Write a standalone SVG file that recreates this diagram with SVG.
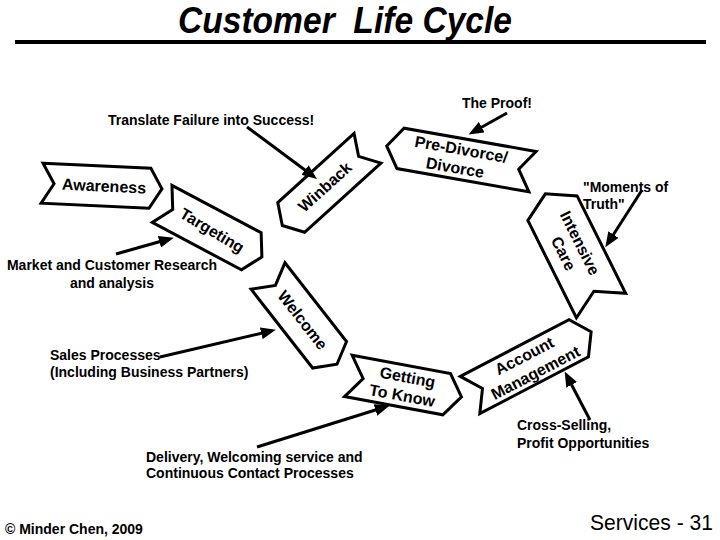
<svg xmlns="http://www.w3.org/2000/svg" width="720" height="540" viewBox="0 0 720 540">
<style>
.shape{fill:#fff;stroke:#000;stroke-width:3;stroke-linejoin:miter}
.st{font-family:"Liberation Sans",Arial,sans-serif;font-weight:bold;font-size:16px;fill:#000;text-anchor:middle}
.lbl{font-family:"Liberation Sans",Arial,sans-serif;font-weight:bold;font-size:14px;fill:#000}
.conn line{stroke:#000;stroke-width:3}
</style>
<defs>
<marker id="ah" markerUnits="userSpaceOnUse" markerWidth="16" markerHeight="12" refX="10" refY="6" orient="auto">
<path d="M0,0 L15,6 L0,12 z" fill="#000"/>
</marker>
</defs>
<rect width="720" height="540" fill="#fff"/>
<text x="178" y="33" xml:space="preserve" font-family="'Liberation Sans',Arial,sans-serif" font-weight="bold" font-style="italic" font-size="36" textLength="334" lengthAdjust="spacingAndGlyphs">Customer  Life Cycle</text>
<line x1="15" y1="42" x2="706" y2="42" stroke="#000" stroke-width="4"/>

<g id="awareness">
<polygon class="shape" transform="translate(102,186) rotate(2.7)" points="-60,-20 48,-20 60,0 48,20 -60,20 -48,0"/>
<text class="st" transform="translate(102,186) rotate(2.7)" x="2" y="5.5">Awareness</text>
</g>
<g id="targeting">
<polygon class="shape" transform="translate(212,230.4) rotate(28)" points="-56.5,-21 44.5,-21 56.5,0 44.5,21 -56.5,21 -44.5,0"/>
<text class="st" transform="translate(212,230.4) rotate(31)" x="0" y="5.5">Targeting</text>
</g>
<g id="welcome">
<polygon class="shape" transform="translate(302.5,320.1) rotate(52)" points="-56,-21.5 44,-21.5 56,0 44,21.5 -56,21.5 -44,0"/>
<text class="st" transform="translate(302.5,320.1) rotate(52)" x="0" y="5.5" font-size="15">Welcome</text>
</g>
<g id="getting-to-know">
<polygon class="shape" transform="translate(404.9,386.4) rotate(10.5)" points="-57.5,-21 42.5,-21 57.5,0 42.5,21 -57.5,21 -42.5,0"/>
<text class="st" transform="translate(404.9,386.4) rotate(10.5)" x="1" y="-4">Getting</text>
<text class="st" transform="translate(404.9,386.4) rotate(10.5)" x="-1" y="15">To Know</text>
</g>
<g id="account-management">
<polygon class="shape" transform="translate(530.6,363.4) rotate(-27.6)" points="-68.3,-21 54.3,-21 68.3,0 54.3,21 -68.3,21 -54.3,0"/>
<text class="st" transform="translate(530.6,363.4) rotate(-27.6)" x="-2" y="-4">Account</text>
<text class="st" transform="translate(530.6,363.4) rotate(-27.6)" x="0" y="16">Management</text>
</g>
<g id="intensive-care">
<polygon class="shape" transform="translate(573.2,249.7) rotate(243.5)" points="-62.4,-27.5 46.4,-27.5 62.4,0 46.4,27.5 -62.4,27.5 -46.4,0"/>
<text class="st" transform="translate(573.2,249.7) rotate(63.5)" x="-3" y="-3.5">Intensive</text>
<text class="st" transform="translate(573.2,249.7) rotate(63.5)" x="-1" y="16">Care</text>
</g>
<g id="pre-divorce">
<polygon class="shape" transform="translate(459.6,158.8) rotate(190)" points="-74,-20.5 60,-20.5 74,0 60,20.5 -74,20.5 -60,0"/>
<text class="st" transform="translate(459.6,158.8) rotate(10)" x="0" y="-4">Pre-Divorce/</text>
<text class="st" transform="translate(459.6,158.8) rotate(10)" x="-3" y="15">Divorce</text>
</g>
<g id="winback">
<polygon class="shape" transform="translate(324.9,186.9) rotate(137.8)" points="-57.5,-20 45.5,-20 57.5,0 45.5,20 -57.5,20 -45.5,0"/>
<text class="st" transform="translate(324.9,186.9) rotate(-42.2)" x="0" y="5.5">Winback</text>
</g>

<g id="connectors" class="conn">
<line x1="247" y1="127" x2="313" y2="176" marker-end="url(#ah)"/>
<line x1="507" y1="113" x2="473" y2="132" marker-end="url(#ah)"/>
<line x1="642" y1="190" x2="608" y2="243" marker-end="url(#ah)"/>
<line x1="116" y1="254" x2="169" y2="239" marker-end="url(#ah)"/>
<line x1="160" y1="357" x2="271" y2="331" marker-end="url(#ah)"/>
<line x1="257" y1="447" x2="385" y2="407" marker-end="url(#ah)"/>
<line x1="590" y1="420" x2="567" y2="376" marker-end="url(#ah)"/>
</g>

<g id="labels">
<text class="lbl" x="108" y="125">Translate Failure into Success!</text>
<text class="lbl" x="462" y="108">The Proof!</text>
<text class="lbl" x="583" y="192">"Moments of</text>
<text class="lbl" x="583" y="209">Truth"</text>
<text class="lbl" x="112" y="270" text-anchor="middle">Market and Customer Research</text>
<text class="lbl" x="112" y="288" text-anchor="middle">and analysis</text>
<text class="lbl" x="50" y="360">Sales Processes</text>
<text class="lbl" x="50" y="377">(Including Business Partners)</text>
<text class="lbl" x="146" y="462">Delivery, Welcoming service and</text>
<text class="lbl" x="146" y="478">Continuous Contact Processes</text>
<text class="lbl" x="517" y="430">Cross-Selling,</text>
<text class="lbl" x="517" y="448">Profit Opportunities</text>
<text class="lbl" x="5" y="534" font-size="12">© Minder Chen, 2009</text>
<text x="590" y="530" font-family="'Liberation Sans',Arial,sans-serif" font-size="22" textLength="123" lengthAdjust="spacingAndGlyphs">Services - 31</text>
</g>
</svg>
